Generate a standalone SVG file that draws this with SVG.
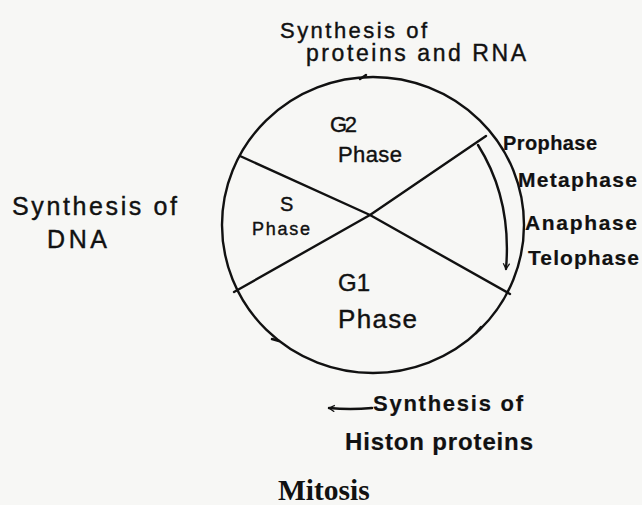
<svg xmlns="http://www.w3.org/2000/svg" width="642" height="505" viewBox="0 0 642 505">
<style>
.h{font-family:"Liberation Sans",Arial,sans-serif;fill:#111;stroke:#111;stroke-width:0.4}
.b{font-weight:bold;stroke-width:0.2}
.ln{stroke:#111;stroke-width:2.4;fill:none;stroke-linecap:round;stroke-linejoin:round}
.cap{font-family:"Liberation Serif","Times New Roman",serif;font-size:29.5px;font-weight:bold;fill:#111}
</style>
<defs>
<marker id="ah" viewBox="0 0 10 10" refX="8" refY="5" markerWidth="8" markerHeight="8" orient="auto-start-reverse" markerUnits="userSpaceOnUse">
<path d="M1,1 L8,5 L1,9" fill="none" stroke="#111" stroke-width="1.6"/>
</marker>
</defs>
<rect width="642" height="505" fill="#f7f7f5"/>
<g id="cycle">
<ellipse cx="373" cy="225" rx="151" ry="148" class="ln"/>
<path d="M360,79 l6,-4 M279,341 l-7,-2 M476,333 l5,-6" class="ln"/>
</g>
<g id="connectors">
<polyline points="240,156 370,215 510,294" class="ln"/>
<polyline points="486,136 370,215 234,292" class="ln"/>
<path d="M478,145 Q512,199 506,269" class="ln" marker-end="url(#ah)"/>
<path d="M372,408 Q350,410 329,408" class="ln" marker-end="url(#ah)" stroke-width="2"/>
</g>
<g id="g2"><text class="h" x="330" y="132" font-size="22" textLength="27">G2</text><text class="h" x="338" y="162" font-size="22" textLength="64">Phase</text></g>
<g id="s"><text class="h" x="280" y="211" font-size="20">S</text><text class="h" x="252" y="235" font-size="18" textLength="58">Phase</text></g>
<g id="g1"><text class="h" x="338" y="291" font-size="24" textLength="32">G1</text><text class="h" x="338" y="328" font-size="26" textLength="79">Phase</text></g>
<g id="mitosis-phases">
<text class="h b" x="503" y="150" font-size="20" textLength="94">Prophase</text>
<text class="h b" x="518" y="187" font-size="21" textLength="119">Metaphase</text>
<text class="h b" x="525" y="230" font-size="21" textLength="112">Anaphase</text>
<text class="h b" x="528" y="265" font-size="21" textLength="111">Telophase</text>
</g>
<g id="top-label"><text class="h" x="280" y="38" font-size="22" textLength="147">Synthesis of</text><text class="h" x="306" y="61" font-size="23" textLength="220">proteins and RNA</text></g>
<g id="left-label"><text class="h" x="12" y="215" font-size="25" textLength="165">Synthesis of</text><text class="h" x="47" y="248" font-size="25" textLength="60">DNA</text></g>
<g id="bottom-label"><text class="h b" x="373" y="411" font-size="22" textLength="150">Synthesis of</text><text class="h b" x="345" y="450" font-size="24" textLength="188">Histon proteins</text></g>
<text class="cap" x="278" y="500">Mitosis</text>
</svg>
